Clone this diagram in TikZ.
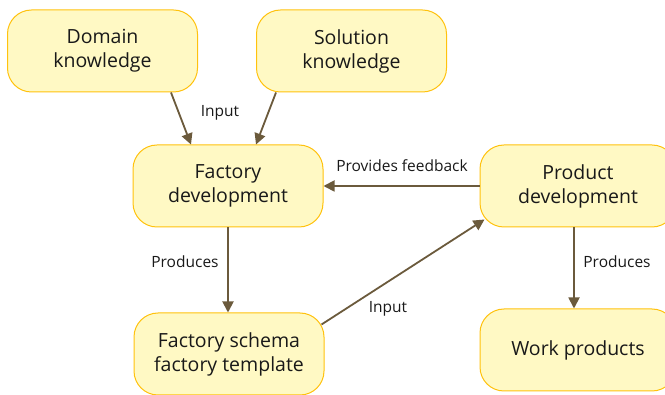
\documentclass[tikz,border=0pt]{standalone}
\usepackage{fontspec}
\setmainfont{Open Sans}
\usetikzlibrary{arrows.meta}
\definecolor{boxfill}{HTML}{FFF9C4}
\definecolor{boxline}{HTML}{FFC20E}
\definecolor{arrcol}{HTML}{6B5A3C}
\tikzset{
  box/.style={draw=boxline, line width=1pt, fill=boxfill, rounded corners=24pt,
    minimum width=190pt, minimum height=82pt, align=center, font=\fontsize{19.5}{24}\selectfont, text=black!90},
  arr/.style={draw=arrcol, line width=1.8pt, -{Triangle[length=11pt,width=11pt]}},
  lbl/.style={font=\fontsize{15.5}{18}\selectfont, text=black!90}
}
\begin{document}
\begin{tikzpicture}[x=1pt,y=-1pt]
\useasboundingbox (0,0) rectangle (665,395);
\node[box] (dom) at (102.5,51) {Domain\\knowledge};
\node[box] (sol) at (351.5,51) {Solution\\knowledge};
\node[box] (fac) at (228,186) {Factory\\development};
\node[box, minimum width=196pt] (prod) at (578,186) {Product\\development};
\node[box] (sch) at (229,354) {Factory schema\\factory template};
\node[box, minimum width=196pt] (work) at (578,350) {Work products};
\draw[arr] ([xshift=68.5pt]dom.south) -- ([xshift=-37pt]fac.north);
\draw[arr] ([xshift=-75.5pt]sol.south) -- ([xshift=28pt]fac.north);
\draw[arr] (prod.west) -- (fac.east);
\draw[arr] (fac.south) -- ([xshift=-1pt]sch.north);
\draw[arr] ([shift={(-3,-29.5)}]sch.east) -- ([shift={(5,-8)}]prod.south west);
\draw[arr] ([xshift=-4pt]prod.south) -- ([xshift=-4pt]work.north);
\node[lbl] (l1) at (220,113) {Input};
\node[lbl] (l2) at (402,166) {Provides feedback};
\node[lbl] (l3) at (185,262) {Produces};
\node[lbl] (l4) at (388,309) {Input};
\node[lbl] (l5) at (617,262) {Produces};
\end{tikzpicture}
\end{document}
